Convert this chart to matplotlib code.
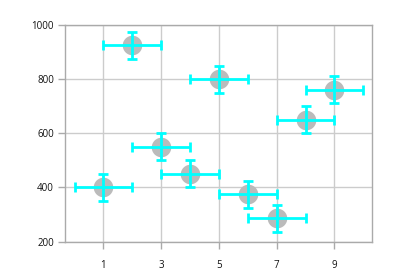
import matplotlib
matplotlib.use("Agg")
import matplotlib.pyplot as plt

x = [1, 2, 3, 4, 5, 6, 7, 8, 9]
y = [400, 925, 550, 450, 800, 375, 285, 650, 760]
x_err = [1, 1, 1, 1, 1, 1, 1, 1, 1]
y_err = [50, 50, 50, 50, 50, 50, 50, 50, 50]
x_ticks = [1, 3, 5, 7, 9]
y_ticks = [200, 400, 600, 800, 1000]

plt.rcParams['font.family'] = ['Open Sans', 'DejaVu Sans']
fig = plt.figure(figsize=(4.04, 2.77), dpi=100)
ax = fig.add_axes([65/404, 1-241.5/277, (372-65)/404, (241.5-25)/277])

ax.scatter(x, y, s=19**2*0.55, color='#bbbbbb', zorder=3, linewidths=0)
ax.errorbar(x, y, xerr=x_err, yerr=y_err, fmt='none', ecolor='#00ffff',
            elinewidth=2, capsize=3.7, capthick=2, zorder=4)

ax.set_xlim(-0.33, 10.3)
ax.set_ylim(200, 1000)
ax.set_xticks(x_ticks)
ax.set_yticks(y_ticks)
ax.grid(True, color='#cccccc', linewidth=1)
ax.set_axisbelow(True)
for s in ax.spines.values():
    s.set_color('#aaaaaa')
    s.set_linewidth(1)
ax.tick_params(axis='both', colors='#aaaaaa', labelcolor='#111111', labelsize=7, length=5, width=1)
ax.tick_params(axis='x', pad=8)
ax.tick_params(axis='y', pad=3)

fig.savefig('out.png', dpi=100)
